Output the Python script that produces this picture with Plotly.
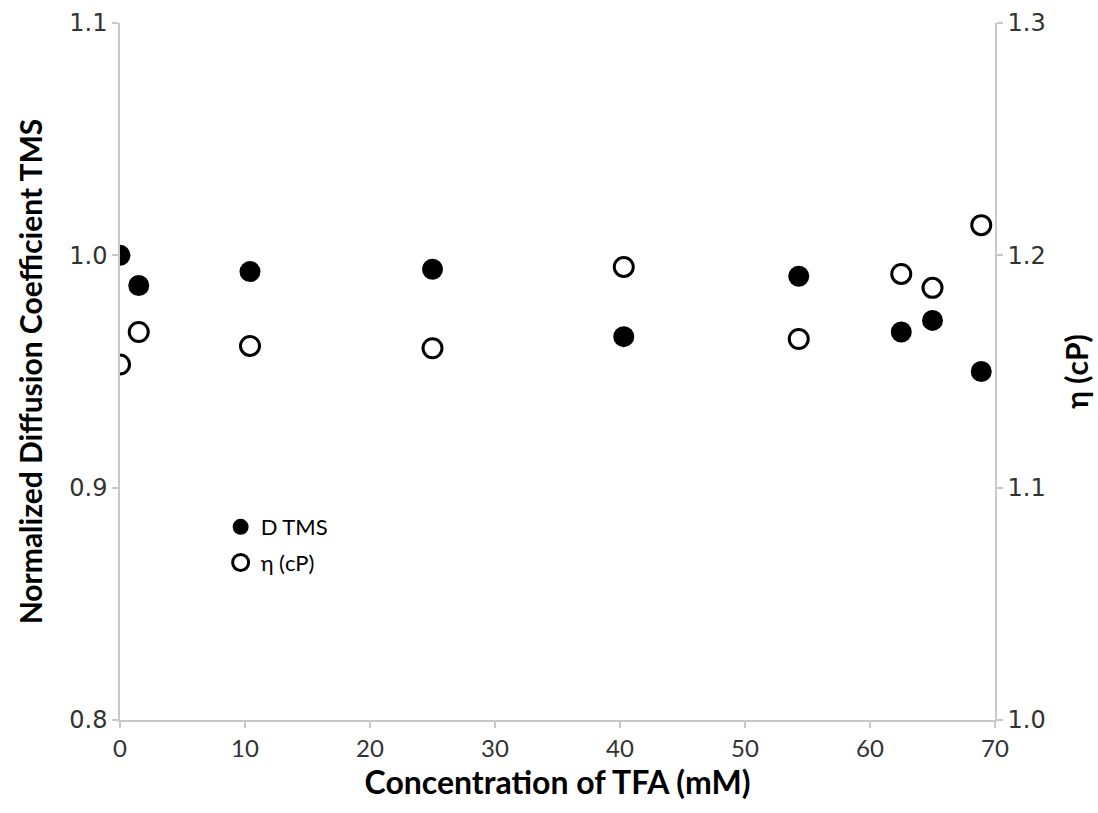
import plotly.graph_objects as go

# TFA concentration (mM)
conc = [0.0, 1.5, 10.4, 25.0, 40.3, 54.3, 62.5, 65.0, 68.9]
# Normalized diffusion coefficient of TMS (left axis)
d_tms = [1.000, 0.987, 0.993, 0.994, 0.965, 0.991, 0.967, 0.972, 0.950]
# Viscosity in cP (right axis)
eta_cp = [1.153, 1.167, 1.161, 1.160, 1.195, 1.164, 1.192, 1.186, 1.213]

left_ticks = [0.8, 0.9, 1.0, 1.1]
right_ticks = [1.0, 1.1, 1.2, 1.3]
x_ticks = [0, 10, 20, 30, 40, 50, 60, 70]

FONT = "Lato"
NUM_FONT = "DejaVu Sans"
AXIS_GRAY = "#c8c8c8"
TEXT = "#333333"

fig = go.Figure()
fig.add_trace(go.Scatter(
    x=conc, y=d_tms, mode="markers", name="D TMS", legendgroup="d",
    marker=dict(symbol="circle", size=21, color="black",
                line=dict(color="black", width=0)),
    yaxis="y",
))
fig.add_trace(go.Scatter(
    x=conc, y=eta_cp, mode="markers", name="η (cP)", legendgroup="eta",
    marker=dict(symbol="circle", size=19, color="white",
                line=dict(color="black", width=3)),
    yaxis="y2",
))

axis_common = dict(
    showgrid=False, zeroline=False, showline=True, linecolor=AXIS_GRAY,
    linewidth=1.5, ticks="outside", ticklen=6, tickcolor=AXIS_GRAY,
    tickwidth=1.5,
)
y_tickfont = dict(family=NUM_FONT, size=24, color=TEXT)
title_font = dict(family=FONT, size=30, color="black")

fig.update_layout(
    width=1098, height=813,
    margin=dict(l=120, r=103, t=23, b=93),
    paper_bgcolor="white", plot_bgcolor="white",
    font=dict(family=FONT, color="black"),
    showlegend=True,
    legend=dict(x=0.115, y=0.307, xanchor="left", yanchor="top",
                bgcolor="rgba(0,0,0,0)",
                font=dict(family=FONT, size=22, color="black"),
                itemwidth=30, tracegroupgap=4),
    xaxis=dict(
        range=[0, 70], tickvals=x_ticks, ticktext=[str(v) for v in x_ticks],
        tickfont=dict(family=FONT, size=24, color=TEXT),
        title=dict(text="<b>Concentration of TFA (mM)</b>", standoff=0,
                   font=dict(family=FONT, size=32, color="black")),
        automargin=True,
        **axis_common,
    ),
    yaxis=dict(
        range=[0.8, 1.1], tickvals=left_ticks,
        ticktext=[f"{v:.1f}" for v in left_ticks],
        tickfont=y_tickfont,
        title=dict(text="<b>Normalized Diffusion Coefficient TMS</b>", standoff=18,
                   font=title_font),
        automargin=False,
        **axis_common,
    ),
    yaxis2=dict(
        range=[1.0, 1.3], tickvals=right_ticks,
        ticktext=[f"{v:.1f}" for v in right_ticks],
        tickfont=y_tickfont,
        overlaying="y", side="right",
        title=dict(text="<b>η (cP)</b>", standoff=22, font=title_font),
        automargin=False,
        **axis_common,
    ),
)

fig.write_html("out.html")
